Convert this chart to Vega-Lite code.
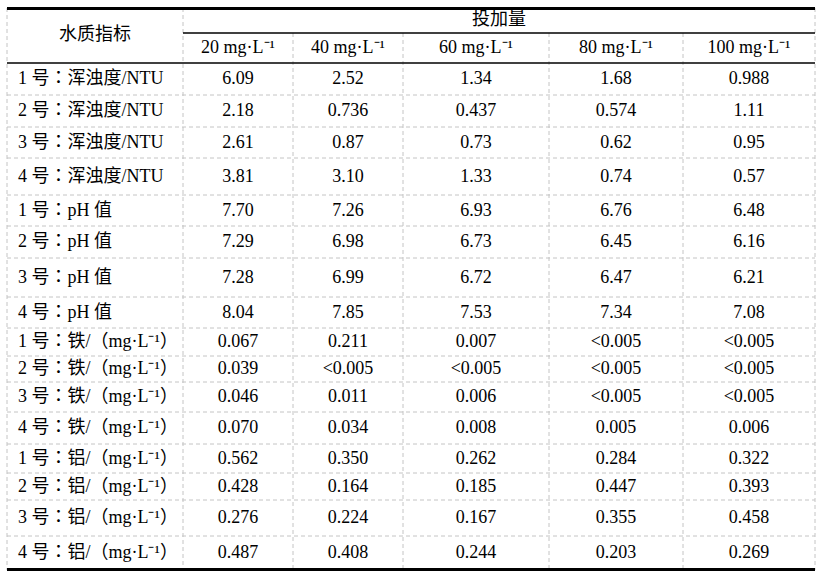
{
  "$schema": "https://vega.github.io/schema/vega-lite/v6.json",
  "width": 824,
  "height": 579,
  "autosize": {"type": "fit", "contains": "padding"},
  "padding": 0,
  "background": "white",
  "config": {
    "view": {"stroke": null},
    "text": {"font": "Liberation Serif, Noto Sans CJK TC", "fontSize": 18, "color": "#000000", "baseline": "middle"}
  },
  "datasets": {
    "cols": [
      {"col": "c20", "label": "20 mg·L⁻¹", "xc": 238},
      {"col": "c40", "label": "40 mg·L⁻¹", "xc": 348},
      {"col": "c60", "label": "60 mg·L⁻¹", "xc": 476},
      {"col": "c80", "label": "80 mg·L⁻¹", "xc": 616},
      {"col": "c100", "label": "100 mg·L⁻¹", "xc": 749}
    ],
    "rows": [
      {"label": "1 号：浑浊度/NTU", "yc": 79, "c20": "6.09", "c40": "2.52", "c60": "1.34", "c80": "1.68", "c100": "0.988"},
      {"label": "2 号：浑浊度/NTU", "yc": 111, "c20": "2.18", "c40": "0.736", "c60": "0.437", "c80": "0.574", "c100": "1.11"},
      {"label": "3 号：浑浊度/NTU", "yc": 142.5, "c20": "2.61", "c40": "0.87", "c60": "0.73", "c80": "0.62", "c100": "0.95"},
      {"label": "4 号：浑浊度/NTU", "yc": 176.5, "c20": "3.81", "c40": "3.10", "c60": "1.33", "c80": "0.74", "c100": "0.57"},
      {"label": "1 号：pH 值", "yc": 210.5, "c20": "7.70", "c40": "7.26", "c60": "6.93", "c80": "6.76", "c100": "6.48"},
      {"label": "2 号：pH 值", "yc": 242, "c20": "7.29", "c40": "6.98", "c60": "6.73", "c80": "6.45", "c100": "6.16"},
      {"label": "3 号：pH 值", "yc": 277.5, "c20": "7.28", "c40": "6.99", "c60": "6.72", "c80": "6.47", "c100": "6.21"},
      {"label": "4 号：pH 值", "yc": 312.5, "c20": "8.04", "c40": "7.85", "c60": "7.53", "c80": "7.34", "c100": "7.08"},
      {"label": "1 号：铁/（mg·L⁻¹）", "yc": 342, "c20": "0.067", "c40": "0.211", "c60": "0.007", "c80": "<0.005", "c100": "<0.005"},
      {"label": "2 号：铁/（mg·L⁻¹）", "yc": 369, "c20": "0.039", "c40": "<0.005", "c60": "<0.005", "c80": "<0.005", "c100": "<0.005"},
      {"label": "3 号：铁/（mg·L⁻¹）", "yc": 397, "c20": "0.046", "c40": "0.011", "c60": "0.006", "c80": "<0.005", "c100": "<0.005"},
      {"label": "4 号：铁/（mg·L⁻¹）", "yc": 428, "c20": "0.070", "c40": "0.034", "c60": "0.008", "c80": "0.005", "c100": "0.006"},
      {"label": "1 号：铝/（mg·L⁻¹）", "yc": 458.5, "c20": "0.562", "c40": "0.350", "c60": "0.262", "c80": "0.284", "c100": "0.322"},
      {"label": "2 号：铝/（mg·L⁻¹）", "yc": 486.5, "c20": "0.428", "c40": "0.164", "c60": "0.185", "c80": "0.447", "c100": "0.393"},
      {"label": "3 号：铝/（mg·L⁻¹）", "yc": 518, "c20": "0.276", "c40": "0.224", "c60": "0.167", "c80": "0.355", "c100": "0.458"},
      {"label": "4 号：铝/（mg·L⁻¹）", "yc": 553, "c20": "0.487", "c40": "0.408", "c60": "0.244", "c80": "0.203", "c100": "0.269"}
    ],
    "hdash": [
      {"y": 95}, {"y": 127}, {"y": 158}, {"y": 195}, {"y": 226}, {"y": 258}, {"y": 297},
      {"y": 328}, {"y": 356}, {"y": 382}, {"y": 412}, {"y": 444}, {"y": 473}, {"y": 500}, {"y": 536}
    ],
    "vdash": [
      {"x": 7, "y0": 8, "y1": 570},
      {"x": 183, "y0": 8, "y1": 570},
      {"x": 293, "y0": 33, "y1": 570},
      {"x": 403, "y0": 33, "y1": 570},
      {"x": 549, "y0": 33, "y1": 570},
      {"x": 683, "y0": 33, "y1": 570},
      {"x": 815, "y0": 8, "y1": 570}
    ],
    "hsolid": [
      {"y": 33, "x0": 183, "x1": 815},
      {"y": 63, "x0": 7, "x1": 815}
    ],
    "hthick": [
      {"y": 8.5, "x0": 7, "x1": 815},
      {"y": 569.5, "x0": 7, "x1": 815}
    ],
    "heads": [
      {"t": "水质指标", "x": 95, "y": 35},
      {"t": "投加量", "x": 499, "y": 20}
    ]
  },
  "layer": [
    {
      "data": {"name": "hdash"},
      "mark": {"type": "rule", "color": "#c4c4c4", "strokeWidth": 1, "strokeDash": [4, 3]},
      "encoding": {
        "x": {"datum": 7, "type": "quantitative", "scale": {"domain": [0, 824], "nice": false, "zero": false}, "axis": null},
        "x2": {"datum": 815},
        "y": {"field": "y", "type": "quantitative", "scale": {"domain": [0, 579], "nice": false, "zero": false, "reverse": true}, "axis": null}
      }
    },
    {
      "data": {"name": "vdash"},
      "mark": {"type": "rule", "color": "#c4c4c4", "strokeWidth": 1, "strokeDash": [4, 3]},
      "encoding": {
        "x": {"field": "x", "type": "quantitative", "axis": null},
        "y": {"field": "y0", "type": "quantitative", "axis": null},
        "y2": {"field": "y1"}
      }
    },
    {
      "data": {"name": "hsolid"},
      "mark": {"type": "rule", "color": "#000000", "strokeWidth": 1.5},
      "encoding": {
        "x": {"field": "x0", "type": "quantitative", "axis": null},
        "x2": {"field": "x1"},
        "y": {"field": "y", "type": "quantitative", "axis": null}
      }
    },
    {
      "data": {"name": "hthick"},
      "mark": {"type": "rule", "color": "#000000", "strokeWidth": 3},
      "encoding": {
        "x": {"field": "x0", "type": "quantitative", "axis": null},
        "x2": {"field": "x1"},
        "y": {"field": "y", "type": "quantitative", "axis": null}
      }
    },
    {
      "data": {"name": "heads"},
      "mark": {"type": "text", "align": "center"},
      "encoding": {
        "x": {"field": "x", "type": "quantitative", "axis": null},
        "y": {"field": "y", "type": "quantitative", "axis": null},
        "text": {"field": "t"}
      }
    },
    {
      "data": {"name": "cols"},
      "mark": {"type": "text", "align": "center"},
      "encoding": {
        "x": {"field": "xc", "type": "quantitative", "axis": null},
        "y": {"datum": 48, "type": "quantitative", "axis": null},
        "text": {"field": "label"}
      }
    },
    {
      "data": {"name": "rows"},
      "mark": {"type": "text", "align": "left"},
      "encoding": {
        "x": {"datum": 18, "type": "quantitative", "axis": null},
        "y": {"field": "yc", "type": "quantitative", "axis": null},
        "text": {"field": "label"}
      }
    },
    {
      "data": {"name": "rows"},
      "transform": [
        {"fold": ["c20", "c40", "c60", "c80", "c100"], "as": ["col", "val"]},
        {"lookup": "col", "from": {"data": {"name": "cols"}, "key": "col", "fields": ["xc"]}}
      ],
      "mark": {"type": "text", "align": "center"},
      "encoding": {
        "x": {"field": "xc", "type": "quantitative", "axis": null},
        "y": {"field": "yc", "type": "quantitative", "axis": null},
        "text": {"field": "val"}
      }
    }
  ]
}
